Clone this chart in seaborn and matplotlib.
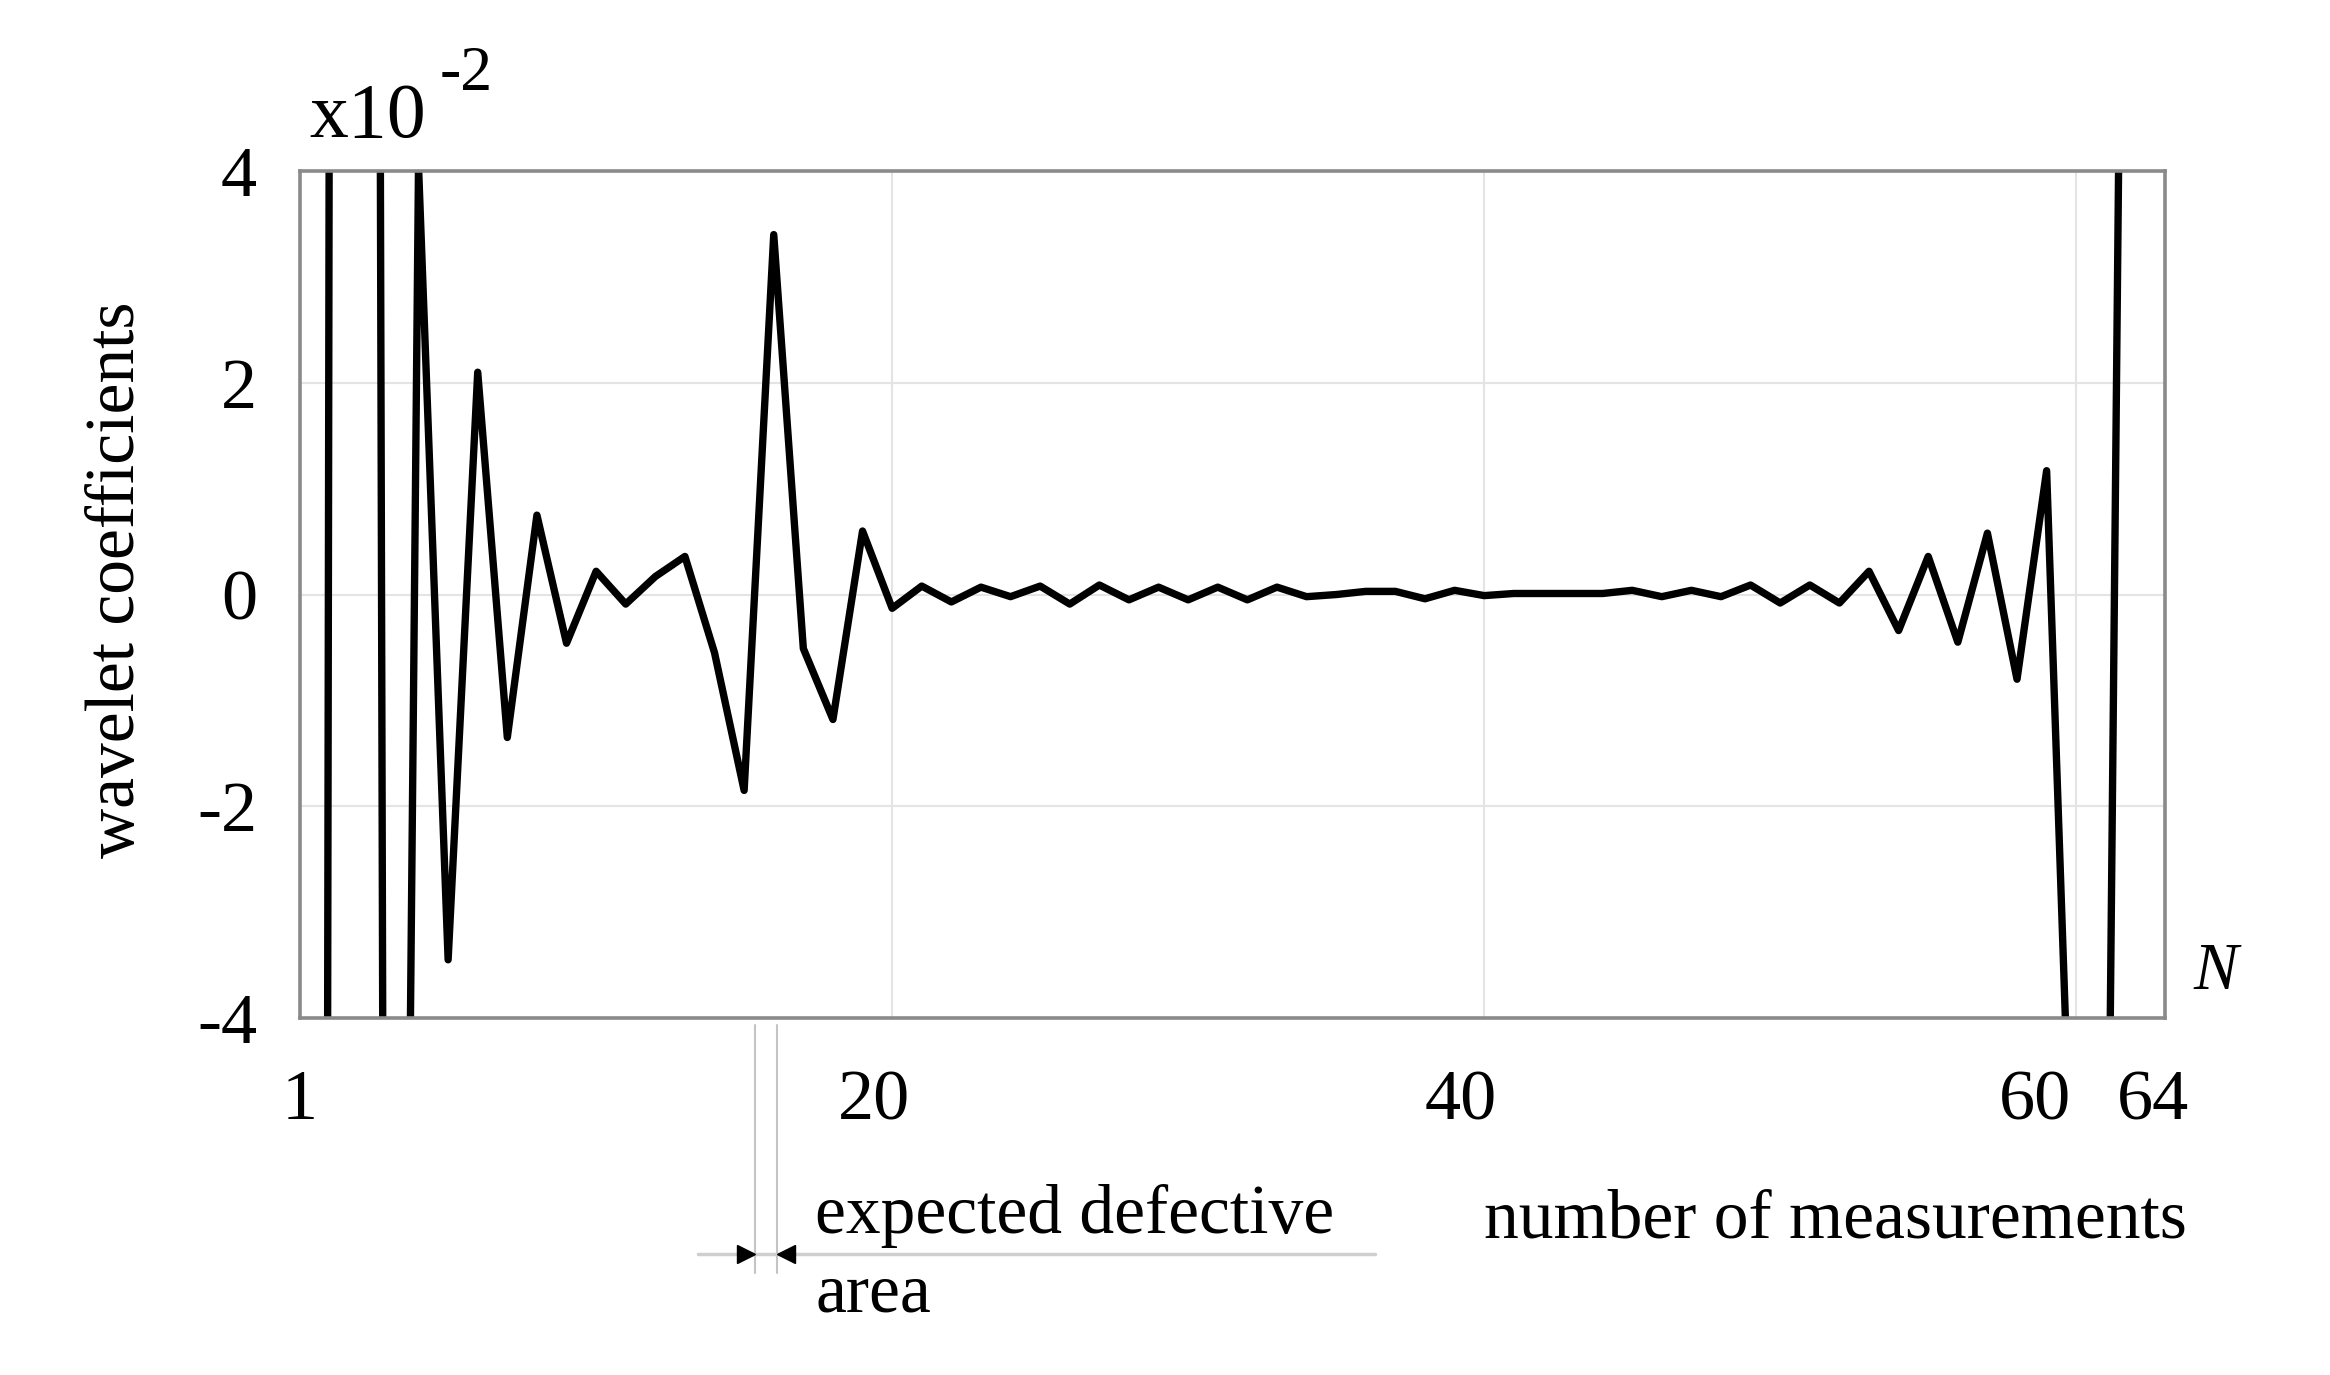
import pandas as pd
import seaborn as sns
import matplotlib.pyplot as plt
import matplotlib.transforms as mtransforms

# wavelet coefficients (x10^-2), one per measurement 1..64
measurement = list(range(1, 65))
coefficient = [
    -153.0, 7.2, 77.0, -25.5, 4.05, -3.45, 2.1, -1.35, 0.75, -0.46,
    0.22, -0.09, 0.17, 0.36, -0.55, -1.85, 3.4, -0.51, -1.18, 0.6,
    -0.13, 0.08, -0.07, 0.07, -0.02, 0.08, -0.09, 0.09, -0.05, 0.07,
    -0.05, 0.07, -0.05, 0.07, -0.02, 0.0, 0.03, 0.03, -0.04, 0.04,
    -0.01, 0.01, 0.01, 0.01, 0.01, 0.04, -0.02, 0.04, -0.02, 0.09,
    -0.08, 0.09, -0.08, 0.22, -0.34, 0.36, -0.45, 0.58, -0.8, 1.17,
    -7.0, -8.3, 20.3, 30.0,
]

x_tick_pos = [1, 20.4, 40.2, 59.6, 63.6]
x_tick_labels = ['1', '20', '40', '60', '64']
y_ticks = [-4, -2, 0, 2, 4]
grid_x = [21, 41, 61]
defect_edges = [16.37, 17.11]

sns.set_theme(style='white')
plt.rcParams['font.family'] = ['Liberation Serif', 'DejaVu Serif']
plt.rcParams['text.color'] = 'black'
plt.rcParams['axes.labelcolor'] = 'black'

fig, ax = plt.subplots(figsize=(23.3, 13.75), dpi=100)
fig.subplots_adjust(left=0.1288, right=0.9292, top=0.8756, bottom=0.2596)

df = pd.DataFrame({'N': measurement, 'coef': coefficient})
sns.lineplot(data=df, x='N', y='coef', color='black', lw=5.3, ax=ax)

ax.set_xlim(1, 64)
ax.set_ylim(-4, 4)
ax.set_xticks(x_tick_pos)
ax.set_xticklabels(x_tick_labels)
ax.set_xticks(grid_x, minor=True)
ax.set_yticks(y_ticks)
ax.set_yticklabels([str(v) for v in y_ticks])

ax.set_axisbelow(True)
ax.grid(axis='x', which='minor', color='#e4e4e4', lw=1.5)
ax.grid(axis='y', which='major', color='#e4e4e4', lw=1.5)
ax.grid(axis='x', which='major', visible=False)

ax.tick_params(axis='both', which='both', length=0, labelsize=52, colors='black')
ax.tick_params(axis='x', pad=37)
ax.tick_params(axis='y', pad=31)

for sp in ax.spines.values():
    sp.set_color('#8a8a8a')
    sp.set_linewidth(2.6)

# axis labels
ax.set_ylabel('wavelet coefficients', fontsize=50)
ax.yaxis.set_label_coords(-0.081, 0.517)
ax.set_xlabel('number of measurements', fontsize=50)
ax.xaxis.set_label_coords(0.823, -0.202)

# scale factor
fig.text(0.1326, 0.9004, 'x10', fontsize=56, va='baseline')
fig.text(0.1888, 0.9345, '-2', fontsize=46, va='baseline')

ax.text(65.7, -3.57, 'N', style='italic', fontsize=48, ha='center', va='center',
        clip_on=False)

# expected defective area marker below the axis
trans = mtransforms.blended_transform_factory(ax.transData, ax.transAxes)
for xe in defect_edges:
    ax.plot([xe, xe], [-0.008, -0.301], transform=trans, color='#c4c4c4',
            lw=1.5, clip_on=False)
ax.plot([14.45, 37.3], [-0.279, -0.279], transform=trans, color='#cfcfcf',
        lw=2.5, clip_on=False)
ax.plot(16.07, -0.279, marker='>', color='black', markersize=13,
        transform=trans, clip_on=False)
ax.plot(17.42, -0.279, marker='<', color='black', markersize=13,
        transform=trans, clip_on=False)
ax.text(18.4, -0.254, 'expected defective', fontsize=50, va='baseline',
        transform=trans)
ax.text(18.4, -0.347, 'area', fontsize=50, va='baseline', transform=trans)

fig.savefig('out.png', dpi=100, facecolor='white')
